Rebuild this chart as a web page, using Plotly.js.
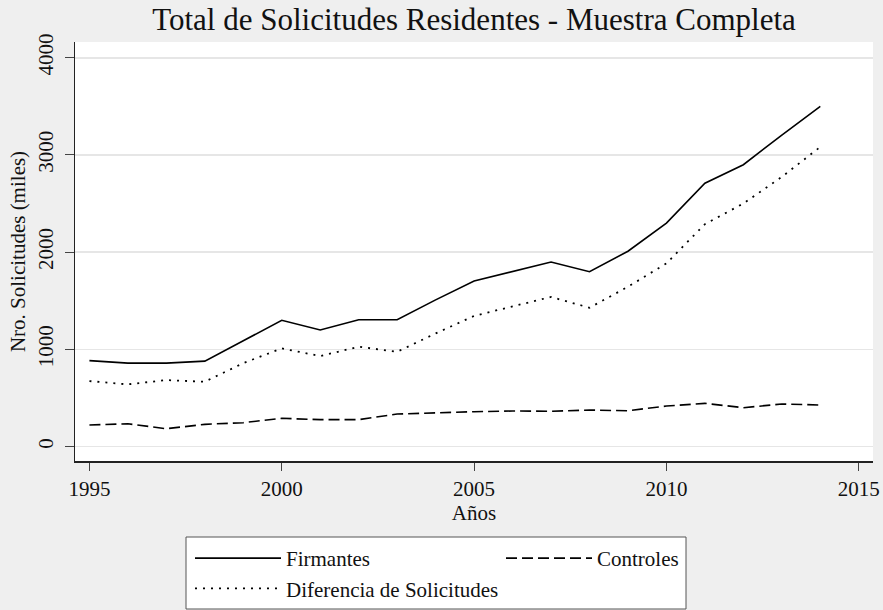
<!DOCTYPE html>
<html>
<head>
<meta charset="utf-8">
<script src="https://cdn.plot.ly/plotly-3.0.1.min.js"></script>
<style>html,body{margin:0;padding:0;background:#efefef;}</style>
</head>
<body>
<div id="chart" style="width:883px;height:610px;"></div>
<script>
var years = [1995,1996,1997,1998,1999,2000,2001,2002,2003,2004,2005,2006,2007,2008,2009,2010,2011,2012,2013,2014];
var firmantes = [885,860,860,880,1090,1300,1200,1305,1305,1510,1705,1800,1900,1800,2010,2300,2710,2900,3205,3500];
var controles = [223,236,185,230,247,292,278,278,336,350,360,367,365,377,370,418,446,401,439,429];
var diferencia = [675,641,685,668,860,1011,932,1028,976,1165,1345,1439,1540,1429,1645,1885,2289,2501,2775,3083];
var yTicks = [0,1000,2000,3000,4000];
var xTicks = [1995,2000,2005,2010,2015];

var serif = "Liberation Serif, Times New Roman, serif";

var traces = [
  {x: years, y: firmantes, name: "Firmantes", type: "scatter", mode: "lines",
   line: {color: "#000000", width: 1.6, dash: "solid"}},
  {x: years, y: controles, name: "Controles", type: "scatter", mode: "lines",
   line: {color: "#000000", width: 1.6, dash: "11px,5px"}},
  {x: years, y: diferencia, name: "Diferencia de Solicitudes", type: "scatter", mode: "lines",
   line: {color: "#000000", width: 1.8, dash: "2px,6px"}}
];

var plotL = 75, plotR = 873, plotT = 42, plotB = 461;
var pw = plotR - plotL, ph = plotB - plotT;

var layout = {
  width: 883, height: 610,
  paper_bgcolor: "#efefef",
  plot_bgcolor: "#ffffff",
  margin: {l: plotL, r: 883 - plotR, t: plotT, b: 610 - plotB, autoexpand: false},
  font: {family: serif, color: "#111111", size: 21},
  title: {text: "Total de Solicitudes Residentes - Muestra Completa",
          font: {family: serif, size: 31, color: "#111111"},
          x: 0.5, xref: "paper", xanchor: "center",
          y: 1 - 19/610, yref: "container", yanchor: "middle"},
  xaxis: {range: [1994.625, 2015.37], tickvals: xTicks, ticktext: xTicks.map(String),
          showgrid: false, zeroline: false, showline: true, linecolor: "#222222", linewidth: 1.5,
          ticks: "outside", ticklen: 8, tickwidth: 1, tickcolor: "#444444",
          tickfont: {family: serif, size: 21, color: "#111111"},
          title: {text: "Años", font: {family: serif, size: 21, color: "#111111"}, standoff: 0}},
  yaxis: {range: [-147, 4162], tickvals: yTicks, ticktext: yTicks.map(String),
          showgrid: true, gridcolor: "#e6e6e6", gridwidth: 1.5, zeroline: false,
          showline: true, linecolor: "#222222", linewidth: 1.5,
          ticks: "outside", ticklen: 9, tickwidth: 1, tickcolor: "#444444",
          tickangle: -90, ticklabelstandoff: 3,
          tickfont: {family: serif, size: 21, color: "#111111"},
          title: {text: "Nro. Solicitudes (miles)", font: {family: serif, size: 21, color: "#111111"}, standoff: 2}},
  shapes: [
    {type: "rect", xref: "paper", yref: "paper", layer: "below",
     x0: (186 - plotL) / pw, x1: (686 - plotL) / pw,
     y0: -(537 - plotB) / ph, y1: -(609 - plotB) / ph,
     fillcolor: "#ffffff", line: {color: "#555555", width: 1}}
  ],
  showlegend: true,
  legend: {orientation: "h", x: (190 - plotL) / pw, xanchor: "left", y: -(538 - plotB) / ph, yanchor: "top",
           bgcolor: "rgba(0,0,0,0)", borderwidth: 0,
           itemwidth: 86, entrywidth: 210, traceorder: "normal",
           font: {family: serif, size: 21, color: "#111111"}}
};

Plotly.newPlot("chart", traces, layout, {displayModeBar: false, staticPlot: true});
</script>
</body>
</html>
